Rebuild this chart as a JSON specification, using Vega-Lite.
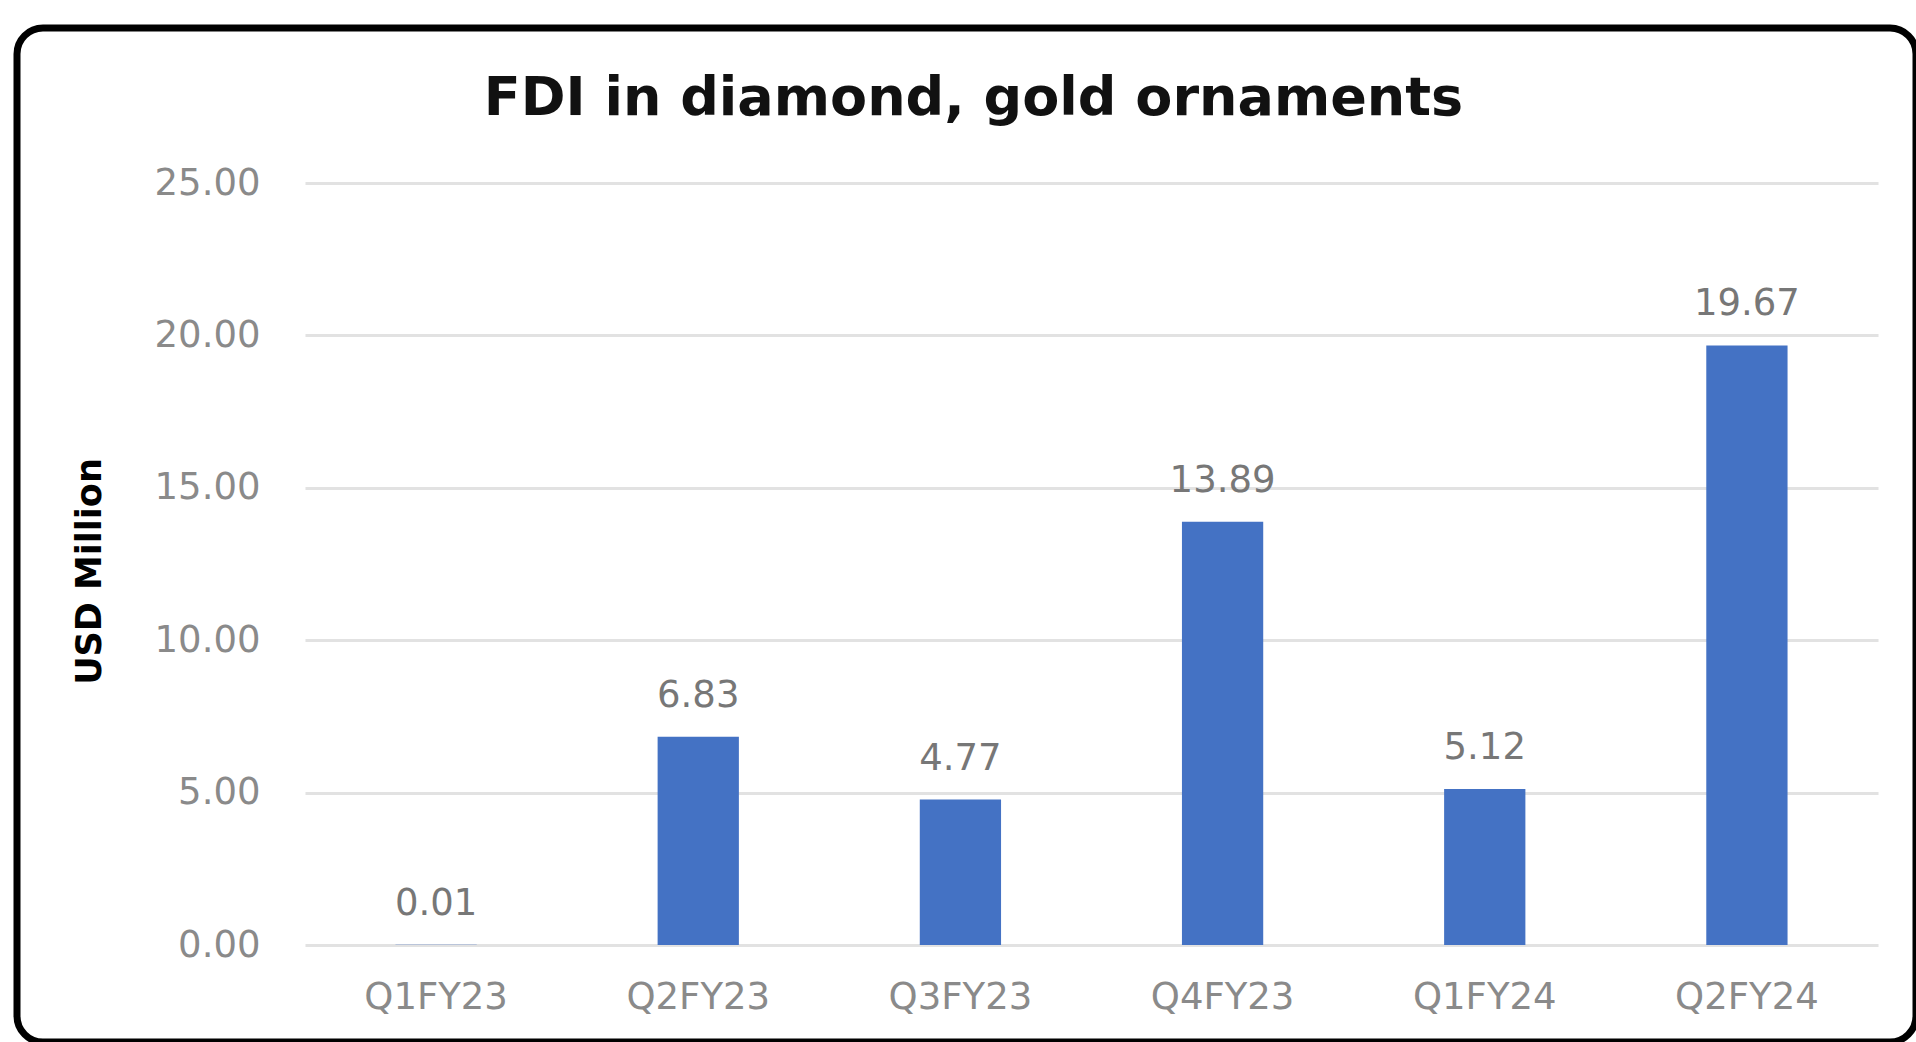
{
  "$schema": "https://vega.github.io/schema/vega-lite/v6.json",
  "autosize": {"type": "none"},
  "padding": {"left": 17, "top": 28, "right": 0, "bottom": 0},
  "width": 1899,
  "height": 1014,
  "background": "white",
  "title": {
    "text": "FDI in diamond, gold ornaments",
    "font": "DejaVu Sans",
    "fontSize": 54,
    "fontWeight": "bold",
    "color": "#111111",
    "anchor": "middle",
    "frame": "group",
    "baseline": "alphabetic",
    "offset": -141,
    "dx": 7
  },
  "data": {
    "values": [
      {"quarter": "Q1FY23", "value": 0.01},
      {"quarter": "Q2FY23", "value": 6.83},
      {"quarter": "Q3FY23", "value": 4.77},
      {"quarter": "Q4FY23", "value": 13.89},
      {"quarter": "Q1FY24", "value": 5.12},
      {"quarter": "Q2FY24", "value": 19.67}
    ]
  },
  "encoding": {
    "x": {
      "field": "quarter",
      "type": "nominal",
      "sort": null,
      "scale": {"range": [288, 1861], "paddingInner": 0, "paddingOuter": 0},
      "axis": {
        "title": null,
        "offset": -97,
        "domain": false,
        "ticks": false,
        "labelPadding": 34,
        "labelFont": "DejaVu Sans",
        "labelFontSize": 37,
        "labelColor": "#8a8a8a",
        "labelAngle": 0
      }
    },
    "y": {
      "field": "value",
      "type": "quantitative",
      "scale": {"domain": [0, 25], "range": [917, 155], "nice": false},
      "axis": {
        "title": "USD Million",
        "titleFont": "DejaVu Sans",
        "titleFontSize": 35,
        "titleFontWeight": "bold",
        "titleColor": "#000000",
        "titleAngle": -90,
        "titleX": -205,
        "titleY": 543,
        "titleAlign": "center",
        "titleBaseline": "alphabetic",
        "offset": -288,
        "values": [0, 5, 10, 15, 20, 25],
        "format": ".2f",
        "domain": false,
        "ticks": false,
        "labelPadding": 45,
        "labelFont": "DejaVu Sans",
        "labelFontSize": 37,
        "labelColor": "#8a8a8a",
        "grid": true,
        "gridColor": "#e2e2e2",
        "gridWidth": 3
      }
    }
  },
  "layer": [
    {
      "mark": {"type": "bar", "color": "#4472C4", "width": {"band": 0.31}}
    },
    {
      "mark": {
        "type": "text",
        "font": "DejaVu Sans",
        "fontSize": 37,
        "color": "#777777",
        "baseline": "alphabetic",
        "dy": -30
      },
      "encoding": {
        "text": {"field": "value", "type": "quantitative", "format": ".2f"}
      }
    }
  ],
  "config": {
    "view": {
      "stroke": "#000000",
      "strokeWidth": 7,
      "cornerRadius": 26,
      "fill": "white"
    }
  }
}
